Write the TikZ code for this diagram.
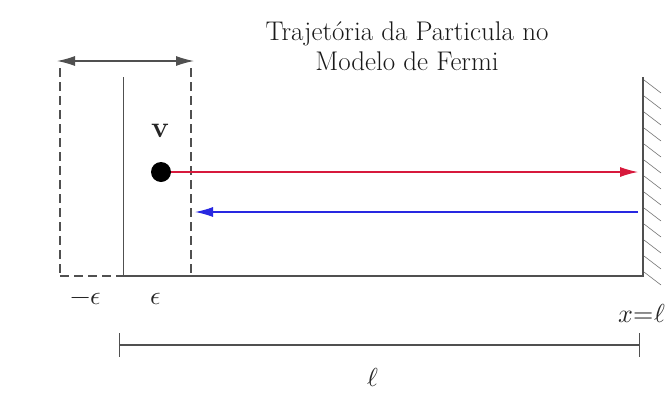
\documentclass[tikz,border=0pt]{standalone}
\usepackage{fontspec}
\usepackage{unicode-math}
\usetikzlibrary{arrows.meta}
\definecolor{redarrow}{RGB}{215,25,60}
\definecolor{bluearrow}{RGB}{40,40,225}
\definecolor{linegray}{RGB}{80,80,80}
\begin{document}
\begin{tikzpicture}[x=1pt,y=-1pt,
  lbl/.style={font=\fontsize{26}{30}\selectfont, inner sep=0pt, text=black!85},
  wall/.style={draw=linegray, line width=1.2pt},
  dashline/.style={draw=linegray, line width=1.2pt, dash pattern=on 9pt off 5pt},
  head/.style={-{Latex[length=18pt,width=10pt]}},
]
\useasboundingbox (0,0) rectangle (671,410);
% coordinates
\coordinate (dlt) at (60,68);
\coordinate (dlb) at (60,276);
\coordinate (slt) at (123,77);
\coordinate (slb) at (123,276);
\coordinate (drt) at (191,68);
\coordinate (drb) at (191,276);
\coordinate (wt) at (643,77);
\coordinate (wb) at (643,276);
\coordinate (al) at (57,61);
\coordinate (ar) at (194,61);
% title
\node[inner sep=0pt, align=center, text=black!90, font=\fontsize{27}{30}\selectfont] (title) at (407,46) {Trajetória da Particula no\\Modelo de Fermi};
% boundary lines
\draw[dashline] (dlt) -- (dlb);
\draw[dashline] (drt) -- (drb);
\draw[wall, line width=0.9pt] (slt) -- (slb);
\draw[dashline] (dlb) -- (slb);
\draw[wall] (slb) -- (wb) -- (wt);
% hatching
\foreach \y in {80,96,...,272}{
  \draw[linegray!80, line width=0.6pt] (644,\y) -- (661,\y+13);
}
% width arrow
\draw[linegray, line width=1.2pt, {Latex[length=18pt,width=10pt]}-{Latex[length=18pt,width=10pt]}] (al) -- (ar);
% particle
\node[circle, fill=black, minimum size=20pt, inner sep=0pt] (p) at (161,172) {};
\node[lbl, font=\fontsize{30}{30}\bfseries] (v) at (160,131) {v};
\coordinate (rend) at (638,172);
\coordinate (bstart) at (638,212);
\coordinate (bend) at (195,212);
\draw[redarrow, line width=1.2pt, head] (p.east) -- (rend);
\draw[bluearrow, line width=1.2pt, head] (bstart) -- (bend);
% labels
\node[lbl] (me) at (86,299) {$-\epsilon$};
\node[lbl] (pe) at (156,299) {$\epsilon$};
\node[lbl] (xl) at (642,313) {$x{=}\ell$};
% length dimension
\coordinate (ll) at (119,345);
\coordinate (lr) at (639,345);
\draw[linegray, line width=1.2pt] (ll) -- (lr);
\draw[linegray, line width=0.9pt] (119,333) -- (119,357);
\draw[linegray, line width=0.9pt] (639,333) -- (639,357);
\node[lbl] (lbll) at (373,377) {$\ell$};
\end{tikzpicture}
\end{document}
